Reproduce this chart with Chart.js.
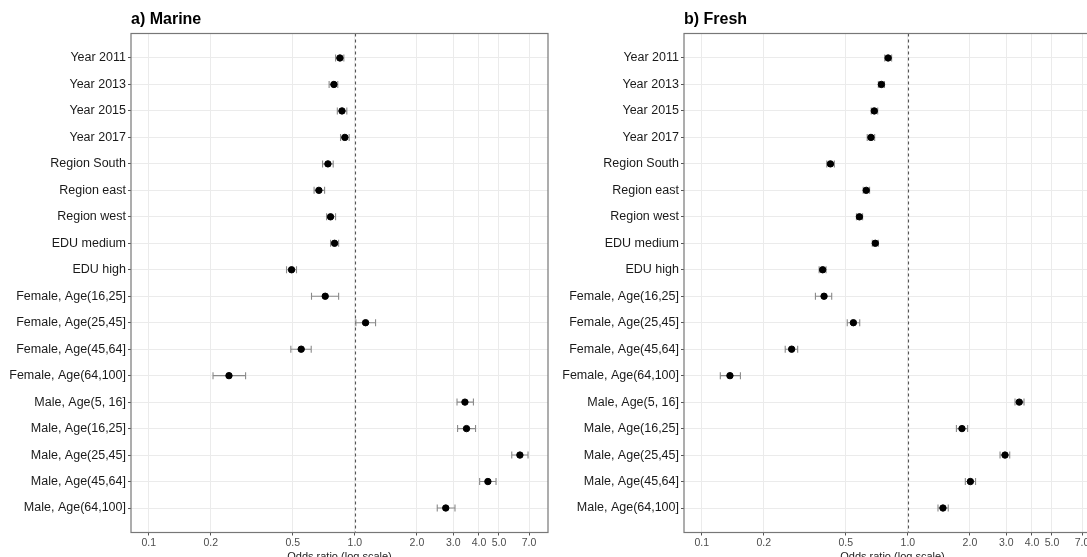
<!DOCTYPE html>
<html>
<head>
<meta charset="utf-8">
<script src="https://cdn.jsdelivr.net/npm/chart.js@4.4.1/dist/chart.umd.min.js"></script>
<style>
  html, body { margin:0; padding:0; background:#fff; overflow:hidden; }
  #wrap { position:relative; width:1087px; height:557px; overflow:hidden; }
  canvas { position:absolute; top:0; }
</style>
</head>
<body>
<div id="wrap">
  <canvas id="chartMarine" width="553" height="570" style="left:0"></canvas>
  <canvas id="chartFresh" width="553" height="570" style="left:553px"></canvas>
</div>
<script>
// --- Date ---
const termeni = [
  'Year 2011','Year 2013','Year 2015','Year 2017',
  'Region South','Region east','Region west',
  'EDU medium','EDU high',
  'Female, Age(16,25]','Female, Age(25,45]','Female, Age(45,64]','Female, Age(64,100]',
  'Male, Age(5, 16]','Male, Age(16,25]','Male, Age(25,45]','Male, Age(45,64]','Male, Age(64,100]'
];

// a) Marine
const marine_or    = [0.846,0.791,0.866,0.894,0.740,0.669,0.762,0.797,0.493,0.718,1.127,0.549,0.245,3.42,3.48,6.32,4.42,2.76];
const marine_lower = [0.806,0.750,0.822,0.852,0.697,0.634,0.729,0.762,0.466,0.616,1.011,0.489,0.205,3.13,3.15,5.77,4.03,2.51];
const marine_upper = [0.884,0.826,0.914,0.938,0.785,0.713,0.806,0.834,0.521,0.834,1.26,0.614,0.295,3.76,3.85,6.92,4.84,3.06];

// b) Fresh
const fresh_or    = [0.802,0.744,0.687,0.662,0.421,0.628,0.582,0.695,0.386,0.392,0.544,0.273,0.137,3.47,1.83,2.96,2.01,1.48];
const fresh_lower = [0.772,0.719,0.664,0.635,0.404,0.607,0.563,0.672,0.371,0.356,0.508,0.254,0.123,3.31,1.72,2.80,1.90,1.40];
const fresh_upper = [0.834,0.770,0.714,0.690,0.440,0.652,0.603,0.719,0.401,0.427,0.584,0.292,0.154,3.66,1.95,3.12,2.13,1.57];

const xTicks = [0.1,0.2,0.5,1.0,2.0,3.0,4.0,5.0,7.0];

// --- Plugin: linie la 1, bare de eroare, chenar, titlu ---
const forestPlugin = {
  id:'forest',
  beforeDatasetsDraw(chart, args, opts){
    const {ctx, chartArea:a, scales:{x,y}} = chart;
    ctx.save();
    // linie punctata la OR = 1
    const x1 = Math.round(x.getPixelForValue(1)) + 0.5;
    ctx.strokeStyle = '#555';
    ctx.lineWidth = 1.1;
    ctx.setLineDash([3,3]);
    ctx.beginPath(); ctx.moveTo(x1, a.top); ctx.lineTo(x1, a.bottom); ctx.stroke();
    ctx.setLineDash([]);
    // bare de eroare
    ctx.strokeStyle = '#8a8a8a';
    ctx.lineWidth = 1.1;
    opts.lower.forEach((lo,i)=>{
      const py = y.getPixelForValue(i+1);
      const pl = x.getPixelForValue(lo);
      const pu = x.getPixelForValue(opts.upper[i]);
      ctx.beginPath();
      ctx.moveTo(pl, py); ctx.lineTo(pu, py);
      ctx.moveTo(pl, py-3.5); ctx.lineTo(pl, py+3.5);
      ctx.moveTo(pu, py-3.5); ctx.lineTo(pu, py+3.5);
      ctx.stroke();
    });
    ctx.restore();
  },
  afterDraw(chart, args, opts){
    const {ctx, chartArea:a} = chart;
    ctx.save();
    ctx.strokeStyle = '#777';
    ctx.lineWidth = 1.2;
    ctx.strokeRect(a.left, a.top, a.right-a.left, a.bottom-a.top);
    ctx.fillStyle = '#000';
    ctx.font = 'bold 16px "Liberation Sans", Arial, sans-serif';
    ctx.textBaseline = 'middle';
    ctx.fillText(opts.title, a.left, 20);
    ctx.restore();
  }
};

function makeChart(id, titlu, or, lower, upper){
  const ctx = document.getElementById(id).getContext('2d');
  return new Chart(ctx, {
    type:'scatter',
    data:{
      datasets:[{
        data: or.map((v,i)=>({x:v, y:i+1})),
        backgroundColor:'#000',
        borderColor:'#000',
        pointRadius:3.2,
        pointHoverRadius:3.2
      }]
    },
    options:{
      responsive:false,
      animation:false,
      layout:{padding:{left:0, right:5, top:33.5, bottom:0}},
      plugins:{
        legend:{display:false},
        tooltip:{enabled:false},
        forest:{title:titlu, lower:lower, upper:upper}
      },
      scales:{
        x:{
          type:'logarithmic',
          min:0.082, max:8.65,
          afterBuildTicks(s){ s.ticks = xTicks.map(v=>({value:v})); },
          afterFit(s){ s.height = 570 - 532.5; },
          ticks:{
            autoSkip:false, maxRotation:0, padding:1,
            color:'#4d4d4d',
            font:{family:'"Liberation Sans", Arial, sans-serif', size:10.5},
            callback:(v)=>Number(v).toFixed(1)
          },
          grid:{color:'#ebebeb', lineWidth:1, tickColor:'#555', tickLength:3},
          border:{display:false},
          title:{
            display:true, text:'Odds ratio (log scale)',
            color:'#222', padding:{top:0, bottom:6},
            font:{family:'"Liberation Sans", Arial, sans-serif', size:11}
          }
        },
        y:{
          type:'linear',
          reverse:true,
          min:0.075, max:18.925,
          afterBuildTicks(s){ s.ticks = termeni.map((t,i)=>({value:i+1})); },
          afterFit(s){ s.width = 131; },
          ticks:{
            autoSkip:false, padding:2,
            color:'#1a1a1a',
            font:{family:'"Liberation Sans", Arial, sans-serif', size:12.5},
            callback:(v)=>termeni[Math.round(v)-1]
          },
          grid:{color:'#ebebeb', lineWidth:1, tickColor:'#555', tickLength:3},
          border:{display:false}
        }
      }
    },
    plugins:[forestPlugin]
  });
}

makeChart('chartMarine', 'a) Marine', marine_or, marine_lower, marine_upper);
makeChart('chartFresh', 'b) Fresh', fresh_or, fresh_lower, fresh_upper);
</script>
</body>
</html>
